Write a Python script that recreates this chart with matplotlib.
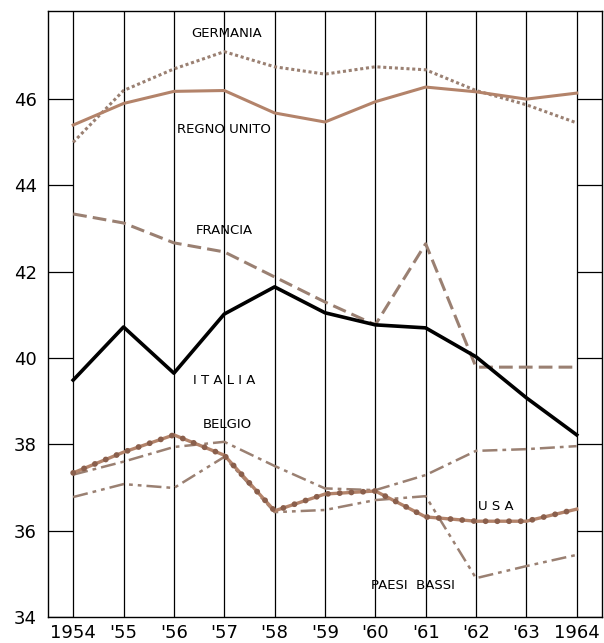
import numpy as np
import matplotlib.pyplot as plt

years = np.arange(1954, 1965)
year_labels = ["1954", "'55", "'56", "'57", "'58", "'59", "'60", "'61", "'62", "'63", "1964"]

germania = [45.0, 46.2, 46.7, 47.1, 46.75, 46.58, 46.75, 46.68, 46.2, 45.87, 45.45]
regno_unito = [45.4, 45.9, 46.18, 46.2, 45.68, 45.47, 45.94, 46.28, 46.17, 46.0, 46.14]
francia = [43.34, 43.13, 42.67, 42.46, 41.88, 41.3, 40.77, 42.65, 39.79, 39.79, 39.79]
italia = [39.49, 40.72, 39.65, 41.02, 41.65, 41.05, 40.77, 40.7, 40.03, 39.08, 38.22]
belgio = [37.3, 37.6, 37.94, 38.06, 37.5, 36.98, 36.94, 37.29, 37.85, 37.89, 37.96]
paesi_bassi = [36.78, 37.08, 36.99, 37.71, 36.43, 36.48, 36.71, 36.8, 34.9, 35.18, 35.44]
usa = [37.34, 37.82, 38.22, 37.75, 36.46, 36.85, 36.92, 36.32, 36.22, 36.22, 36.5]

brown = "#b3836a"
greybrown = "#9a8072"

fig = plt.figure(figsize=(6.04, 6.43), dpi=100)
ax = fig.add_axes([0.0795, 0.0404, 0.917, 0.943])
ax.set_xlim(1953.5, 1964.5)
ax.set_ylim(34, 48.05)

# vertical year lines
for x in years:
    ax.axvline(x, color="black", lw=0.9, zorder=1)
# short horizontal lines in the side margins
yt = np.arange(34, 47, 2)
ax.hlines(yt, 1953.5, 1954, color="black", lw=0.9)
ax.hlines(yt, 1964, 1964.5, color="black", lw=0.9)

ax.plot(years, germania, color=greybrown, lw=2.2, ls=(0, (1, 0.9)), zorder=3)
ax.plot(years, regno_unito, color=brown, lw=2.2, zorder=3)
ax.plot(years, francia, color=greybrown, lw=2.2, ls=(0, (4.5, 2)), zorder=3)
ax.plot(years, italia, color="black", lw=2.6, zorder=4)
ax.plot(years, belgio, color=greybrown, lw=1.8, ls=(0, (6, 2, 1.5, 2)), zorder=3)
ax.plot(years, paesi_bassi, color=greybrown, lw=1.8, ls=(0, (6, 2, 1.5, 2, 1.5, 2)), zorder=3)
ax.plot(years, usa, color=brown, lw=2.4, zorder=3)
# dotted beads along the USA line
ax.plot(years, usa, color="#8a5f4c", lw=4.2, ls=(0, (0.01, 2.0)), dash_capstyle="round", zorder=3)

lab = dict(fontsize=9.5, ha="center", va="center", color="black", family="DejaVu Sans")
ax.text(1957.05, 47.53, "GERMANIA", **lab)
ax.text(1957.0, 45.29, "REGNO UNITO", **lab)
ax.text(1957.0, 42.95, "FRANCIA", **lab)
ax.text(1957.0, 39.47, "I T A L I A", **lab)
ax.text(1957.07, 38.45, "BELGIO", **lab)
ax.text(1962.4, 36.57, "U S A", **lab)
ax.text(1960.75, 34.74, "PAESI  BASSI", **lab)

ax.set_xticks(years)
ax.set_xticklabels(year_labels, fontsize=13)
ax.set_yticks(yt)
ax.set_yticklabels([str(v) for v in yt], fontsize=13)
ax.tick_params(axis="x", length=0, pad=5)
ax.tick_params(axis="y", length=0, pad=8)
for s in ax.spines.values():
    s.set_linewidth(1)

fig.savefig("out.png", dpi=100)
